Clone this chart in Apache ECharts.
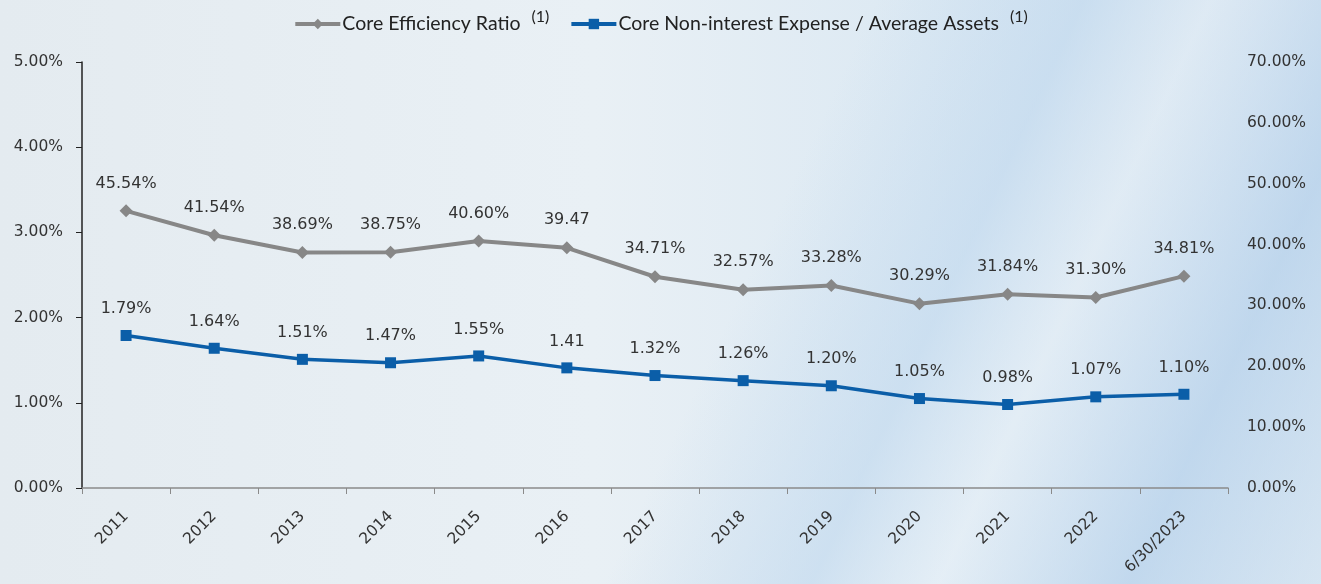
<!DOCTYPE html>
<html><head><meta charset="utf-8">
<script src="https://cdn.jsdelivr.net/npm/echarts@6/dist/echarts.min.js"></script>
<style>
html,body{margin:0;padding:0;width:1321px;height:584px;overflow:hidden;}
body{background:
 linear-gradient(115deg, rgba(255,255,255,0) 55%, rgba(190,215,238,0.55) 68%, rgba(255,255,255,0.25) 76%, rgba(180,208,235,0.6) 88%, rgba(230,240,248,0.3) 100%),
 linear-gradient(90deg,#e4ebf0 0%,#e9f0f5 45%,#dce9f3 70%,#cfe0ef 100%);}
#c{width:1321px;height:584px;}
</style></head><body><div id="c"></div>
<script>
const categories = ['2011','2012','2013','2014','2015','2016','2017','2018','2019','2020','2021','2022','6/30/2023'];
const efficiencyRatio = [45.54,41.54,38.69,38.75,40.60,39.47,34.71,32.57,33.28,30.29,31.84,31.30,34.81];
const efficiencyLabels = ['45.54%','41.54%','38.69%','38.75%','40.60%','39.47','34.71%','32.57%','33.28%','30.29%','31.84%','31.30%','34.81%'];
const expenseRatio = [1.79,1.64,1.51,1.47,1.55,1.41,1.32,1.26,1.20,1.05,0.98,1.07,1.10];
const expenseLabels = ['1.79%','1.64%','1.51%','1.47%','1.55%','1.41','1.32%','1.26%','1.20%','1.05%','0.98%','1.07%','1.10%'];
const seriesNames = ['Core Efficiency Ratio','Core Non-interest Expense / Average Assets'];

const chart = echarts.init(document.getElementById('c'), null, {renderer:'canvas'});
const font = 'DejaVu Sans';
const legendFont = 'Lato';
chart.setOption({
  backgroundColor:'transparent',
  animation:false,
  legend:{
    top:4, left:'center', itemWidth:45, itemHeight:13, itemGap:20,
    data: seriesNames,
    lineStyle:{width:4},
    formatter: n => n + '{sup|(1)}',
    textStyle:{fontFamily:legendFont, fontSize:19.5, color:'#222', padding:[0,0,0,-3],
      rich:{sup:{fontSize:16, verticalAlign:'top', padding:[0,0,14,11], color:'#222', fontFamily:legendFont}}}
  },
  grid:{left:82, right:93, top:62, bottom:96},
  xAxis:{
    type:'category', data:categories, boundaryGap:true,
    axisLine:{lineStyle:{color:'#8a8a8a', width:1.5}},
    axisTick:{show:true, length:6, lineStyle:{color:'#8a8a8a'}},
    axisLabel:{rotate:45, fontFamily:font, fontSize:15.5, color:'#333', margin:26}
  },
  yAxis:[
    {type:'value', min:0, max:5, interval:1, position:'left',
     axisLine:{show:true, lineStyle:{color:'#222', width:1.5}},
     axisTick:{show:true, length:6, lineStyle:{color:'#222'}},
     splitLine:{show:false},
     axisLabel:{formatter: v => v.toFixed(2)+'%', fontFamily:font, fontSize:15.5, color:'#333', margin:19}},
    {type:'value', min:0, max:70, interval:10, position:'right',
     axisLine:{show:false}, axisTick:{show:false}, splitLine:{show:false},
     axisLabel:{formatter: v => v.toFixed(2)+'%', fontFamily:font, fontSize:15.5, color:'#333', margin:19}}
  ],
  series:[
    {name:seriesNames[0], type:'line', yAxisIndex:1, data:efficiencyRatio,
     symbol:'diamond', symbolSize:13,
     lineStyle:{color:'#878787', width:4}, itemStyle:{color:'#878787'},
     label:{show:true, position:'top', distance:13, fontFamily:font, fontSize:16, color:'#333',
       formatter: p => efficiencyLabels[p.dataIndex]}},
    {name:seriesNames[1], type:'line', yAxisIndex:0, data:expenseRatio,
     symbol:'rect', symbolSize:11,
     lineStyle:{color:'#0b5ea8', width:3.5}, itemStyle:{color:'#0b5ea8'},
     label:{show:true, position:'top', distance:13, fontFamily:font, fontSize:16, color:'#333',
       formatter: p => expenseLabels[p.dataIndex]}}
  ]
});
</script></body></html>
